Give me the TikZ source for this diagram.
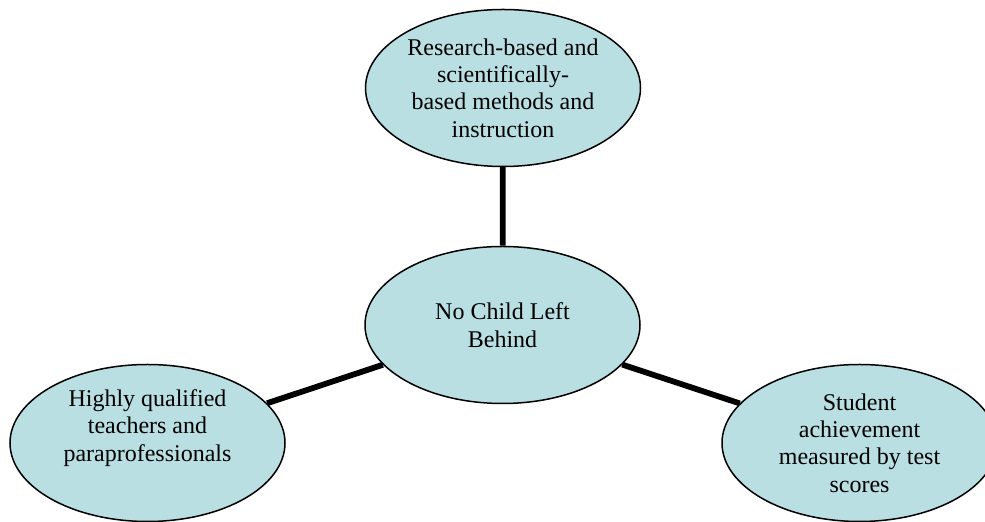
\documentclass[tikz,border=0pt]{standalone}
\usepackage{fontspec}
\setmainfont{Liberation Serif}
\usetikzlibrary{shapes.geometric}
\definecolor{bubble}{RGB}{185,223,227}
\tikzset{
  bubblenode/.style={ellipse, draw=black, line width=0.75pt, fill=bubble,
    minimum width=137.5pt, minimum height=78.5pt, inner sep=0pt,
    align=center, font=\fontsize{12}{13.7}\selectfont},
  link/.style={line width=2.9pt, black}
}
\begin{document}
\begin{tikzpicture}[x=0.5pt, y=-0.5pt]
  \clip (0,0) rectangle (985,522);
  \node[bubblenode] (top) at (503,88) {Research-based and\\scientifically-\\based methods and\\instruction};
  \node[bubblenode] (mid) at (502.5,325) {No Child Left\\Behind};
  \node[bubblenode] (left) at (147.5,443) {Highly qualified\\teachers and\\paraprofessionals\\\strut};
  \node[bubblenode] (right) at (859.5,443) {Student\\achievement\\measured by test\\scores};
  \draw[link] (top) -- (mid);
  \draw[link] (mid) -- (left);
  \draw[link] (mid) -- (right);
\end{tikzpicture}
\end{document}
